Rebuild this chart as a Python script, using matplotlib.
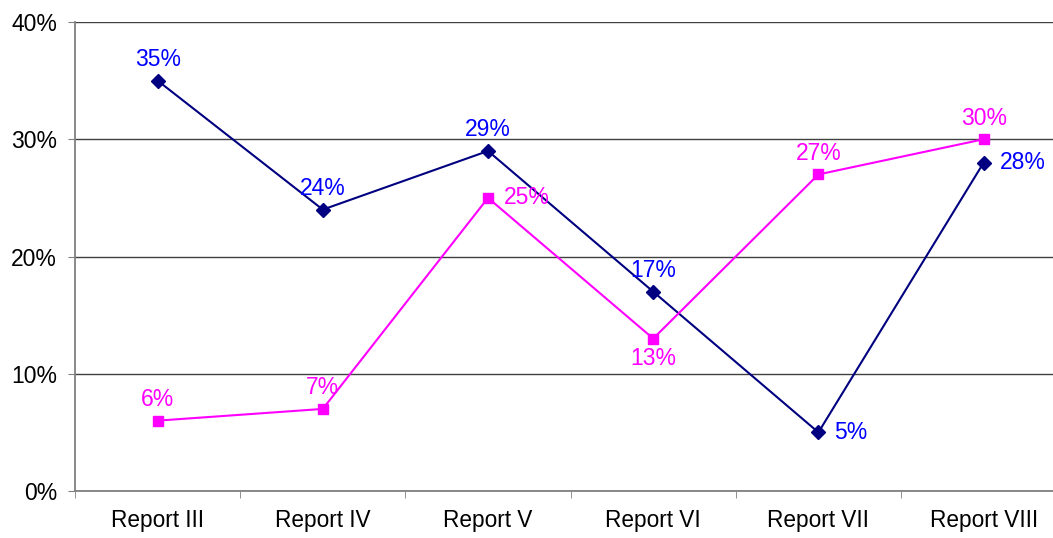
import numpy as np
import matplotlib.pyplot as plt
from matplotlib.ticker import PercentFormatter

plt.rcParams['font.family'] = ['Liberation Sans', 'DejaVu Sans']

categories = ['Report III', 'Report IV', 'Report V', 'Report VI', 'Report VII', 'Report VIII']
blue_vals = [35, 24, 29, 17, 5, 28]
pink_vals = [6, 7, 25, 13, 27, 30]
# where each label goes relative to its point
blue_pos = ['above', 'above', 'above', 'above', 'right', 'right']
pink_pos = ['above', 'above', 'right', 'below', 'above', 'above']

fig = plt.figure(figsize=(10.53, 5.38), dpi=100)
ax = fig.add_axes([75/1053, 47/538, 978/1053, 469/538])

x = np.arange(len(categories))
ax.plot(x, blue_vals, color='#000080', lw=1.5, marker='D', ms=7.5, zorder=3)
ax.plot(x, pink_vals, color='#FF00FF', lw=1.5, marker='s', ms=7.5, zorder=3)

def label(vals, pos, col):
    for xi, v, p in zip(x, vals, pos):
        if p == 'above':
            off, ha, va = (0, 7), 'center', 'bottom'
        elif p == 'below':
            off, ha, va = (0, -6), 'center', 'top'
        else:
            off, ha, va = (11.5, 0), 'left', 'center'
        ax.annotate(f'{v}%', (xi, v), xytext=off, textcoords='offset points',
                    ha=ha, va=va, color=col, fontsize=16.5, zorder=4)

label(blue_vals, blue_pos, '#0000FF')
label(pink_vals, pink_pos, '#FF00FF')

ax.set_xlim(-0.5, 5.42)
ax.set_ylim(0, 40)
ax.set_yticks([0, 10, 20, 30, 40])
ax.yaxis.set_major_formatter(PercentFormatter(decimals=0))
ax.set_xticks(x)
ax.set_xticklabels(categories)
ax.set_xticks(np.arange(-0.5, 5.4, 1), minor=True)
ax.tick_params(axis='x', which='major', length=0, pad=13, labelsize=16.3)
ax.tick_params(axis='x', which='minor', length=5, color='#808080', direction='out')
ax.tick_params(axis='y', length=5, color='#808080', labelsize=16.5, pad=8)
ax.grid(axis='y', color='#404040', lw=1)
ax.set_axisbelow(True)
for s in ['top', 'right']:
    ax.spines[s].set_visible(False)
for s in ['left', 'bottom']:
    ax.spines[s].set_color('#808080')
    ax.spines[s].set_linewidth(1.3)

fig.savefig('out.png', dpi=100)
